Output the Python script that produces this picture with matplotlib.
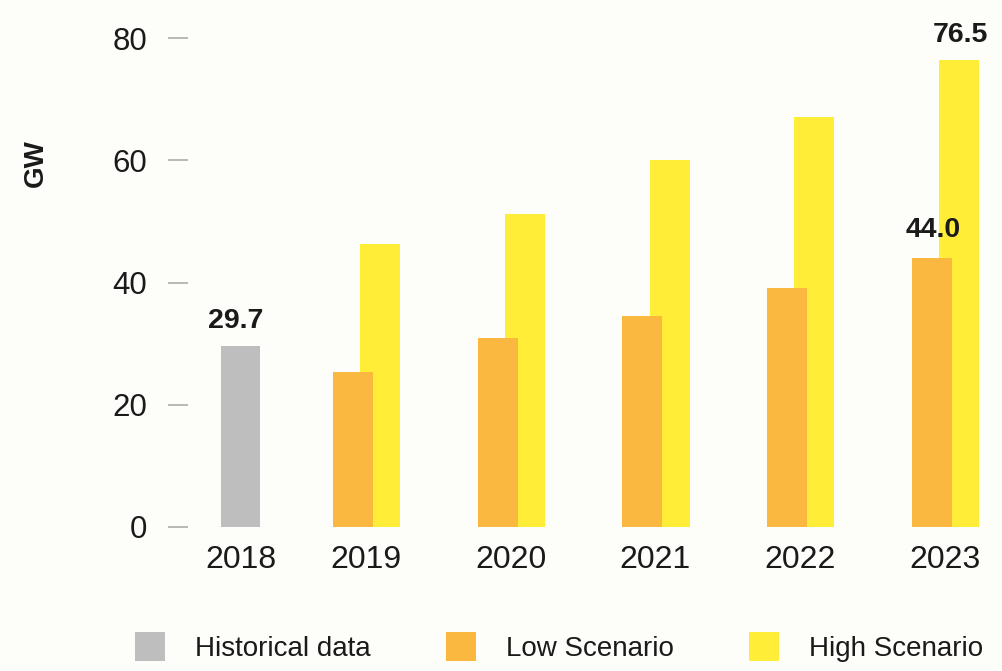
import matplotlib
matplotlib.use("Agg")
import matplotlib.pyplot as plt
from matplotlib.patches import Patch

# ---- data ----
years = ["2018", "2019", "2020", "2021", "2022", "2023"]
historical = [29.7, None, None, None, None, None]
low_scenario = [None, 25.4, 30.9, 34.6, 39.2, 44.0]
high_scenario = [None, 46.3, 51.2, 60.0, 67.1, 76.5]
labelled = {"historical": [0], "low": [5], "high": [5]}
yticks = [0, 20, 40, 60, 80]

# ---- layout ----
x_pos = [0.0, 0.867, 1.867, 2.867, 3.867, 4.867]
bar_w = 0.276
off_low = -0.090
off_high = 0.097

c_hist = "#BEBEBE"
c_low = "#FBB840"
c_high = "#FFED38"
bg = "#FDFDF9"

plt.rcParams["font.family"] = ["Liberation Sans", "DejaVu Sans"]

fig = plt.figure(figsize=(10.03, 6.71), dpi=100, facecolor=bg)
ax = fig.add_axes([188 / 1003, (671 - 527) / 671, (990 - 188) / 1003, 507 / 671])
ax.set_facecolor(bg)

for i, v in enumerate(historical):
    if v is not None:
        ax.bar(x_pos[i], v, width=bar_w, color=c_hist, zorder=2)
        if i in labelled["historical"]:
            ax.text(x_pos[i] - 0.03, v + 2.9, f"{v:.1f}", ha="center", va="baseline",
                    fontsize=20.5, fontweight="bold", color="#1a1a1a", zorder=5)
for i, v in enumerate(high_scenario):
    if v is not None:
        ax.bar(x_pos[i] + off_high, v, width=bar_w, color=c_high, zorder=2)
        if i in labelled["high"]:
            ax.text(x_pos[i] + off_high + 0.01, v + 2.9, f"{v:.1f}", ha="center", va="baseline",
                    fontsize=20.5, fontweight="bold", color="#1a1a1a", zorder=5)
for i, v in enumerate(low_scenario):
    if v is not None:
        ax.bar(x_pos[i] + off_low, v, width=bar_w, color=c_low, zorder=3)
        if i in labelled["low"]:
            ax.text(x_pos[i] + off_low + 0.01, v + 3.4, f"{v:.1f}", ha="center", va="baseline",
                    fontsize=20.5, fontweight="bold", color="#1a1a1a", zorder=5)

ax.set_xlim((188 - 240.5) / 144.75, (990 - 240.5) / 144.75)
ax.set_ylim(0, 83)
ax.set_yticks(yticks)
ax.set_yticklabels([str(t) for t in yticks])
ax.set_xticks(x_pos)
ax.set_xticklabels(years)

for s in ax.spines.values():
    s.set_visible(False)
ax.tick_params(axis="y", length=14.4, width=1.1, color="#a5a5a5", pad=15,
               labelsize=22.5, labelcolor="#1a1a1a")
ax.tick_params(axis="x", length=0, pad=13, labelsize=23, labelcolor="#1a1a1a")

fig.text(36 / 1003, 1 - 163 / 671, "GW", rotation=90, ha="center", va="center",
         fontsize=20, fontweight="bold", color="#1a1a1a")

handles = [Patch(facecolor=c_hist), Patch(facecolor=c_low), Patch(facecolor=c_high)]
leg = fig.legend(handles, ["Historical data", "Low Scenario", "High Scenario"],
                 ncol=3, loc="center", bbox_to_anchor=(559 / 1003, 1 - 647 / 671),
                 frameon=False, fontsize=20, handlelength=1.08, handleheight=1.22,
                 handletextpad=1.08, columnspacing=2.7, borderaxespad=0)
for t in leg.get_texts():
    t.set_color("#1a1a1a")

fig.savefig("out.png", dpi=100, facecolor=bg)
